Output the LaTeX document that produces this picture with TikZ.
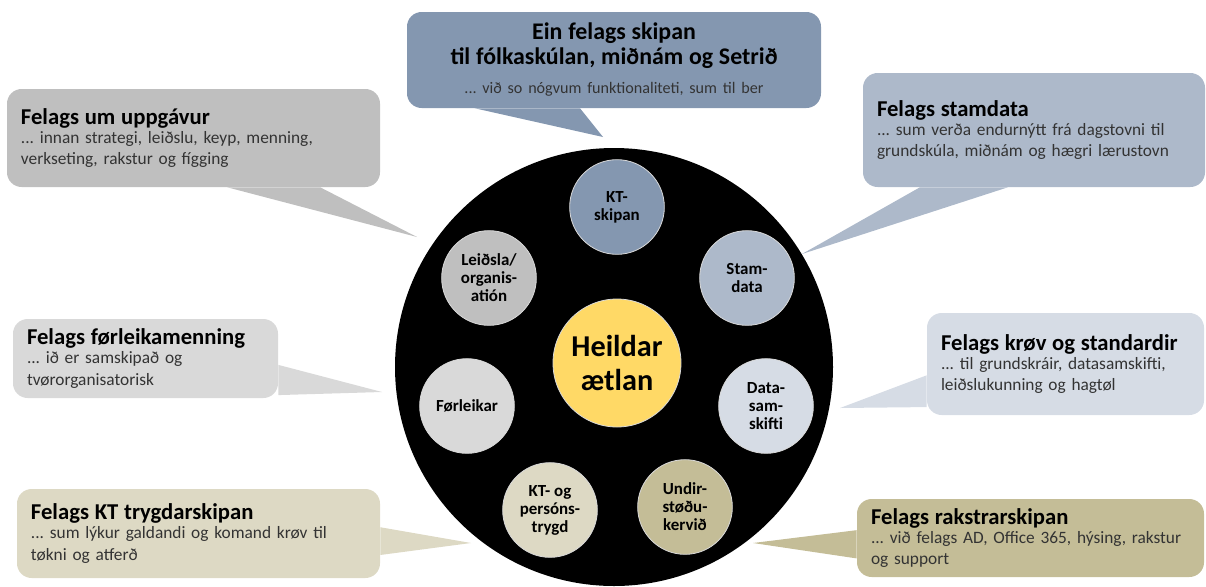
\documentclass[tikz,border=0pt]{standalone}
\usepackage{fontspec}
\setmainfont{Carlito}
\usetikzlibrary{calc}
\frenchspacing

\definecolor{blueA}{HTML}{8497B0}
\definecolor{blueB}{HTML}{ADB9CA}
\definecolor{blueC}{HTML}{D6DCE5}
\definecolor{tanA}{HTML}{C4BD97}
\definecolor{tanB}{HTML}{DDD9C4}
\definecolor{greyA}{HTML}{BFBFBF}
\definecolor{greyB}{HTML}{D9D9D9}
\definecolor{gold}{HTML}{FFD966}

\newcommand{\cohead}[1]{{\color{black}\fontsize{17}{16}\selectfont\bfseries #1}}

\tikzset{
  callout/.style={rectangle, rounded corners=11pt, fill=#1, inner xsep=10.5pt, inner ysep=0pt,
    align=left, font=\fontsize{13}{16}\selectfont, text=black!80},
  part/.style={circle, fill=#1, draw=white!85!black, line width=0.6pt, minimum size=71pt,
    inner sep=0pt, align=center, font=\fontsize{12.7}{13.5}\selectfont\bfseries},
}

\begin{document}
\begin{tikzpicture}[x=0.75pt,y=-0.75pt]

    % page frame
    \useasboundingbox (0,0) rectangle (1206,586);
    \clip (0,0) rectangle (1206,586);

    % speech boxes
    \node[callout=blueA, minimum width=310.5pt, minimum height=72pt, text width=289pt, align=center] (skipan) at (614,60)
        {\color{black}\fontsize{17.9}{16}\selectfont\bfseries Ein felags skipan\\[2.75pt]til fólkaskúlan, miðnám og Setrið\\[5.75pt]\mdseries\color{black!80}\fontsize{12.1}{16}\selectfont ... við so nógvum funktionaliteti, sum til ber};
    \node[callout=greyA, minimum width=279.75pt, minimum height=73.5pt, text width=258.75pt] (uppg) at (193.5,138)
        {\cohead{Felags um uppgávur}\\[-1.75pt]... innan strategi, leiðslu, keyp, menning,\\verkseting, rakstur og fígging};
    \node[callout=blueB, minimum width=256.5pt, minimum height=85.5pt, text width=235.5pt] (stam) at (1034,130)
        {\cohead{Felags stamdata}\\[-1.75pt]... sum verða endurnýtt frá dagstovni til\\grundskúla, miðnám og hægri lærustovn};
    \node[callout=greyB, minimum width=198.75pt, minimum height=59.25pt, text width=177.75pt] (forl) at (145.5,358.5)
        {\cohead{Felags førleikamenning}\\[-1.75pt]... ið er samskipað og\\tvørorganisatorisk};
    \node[callout=blueC, minimum width=207.75pt, minimum height=76.5pt, text width=186.75pt] (krov) at (1065.5,364)
        {\cohead{Felags krøv og standardir}\\[-1.75pt]... til grundskráir, datasamskifti,\\leiðslukunning og hagtøl};
    \node[callout=tanB, minimum width=272.25pt, minimum height=66.75pt, text width=251.25pt] (trygd) at (198.5,533.5)
        {\cohead{Felags KT trygdarskipan}\\[-1.75pt]... sum lýkur galdandi og komand krøv til\\tøkni og atferð};
    \node[callout=tanA, minimum width=260.25pt, minimum height=58.5pt, text width=239.25pt] (rakst) at (1030.5,538)
        {\cohead{Felags rakstrarskipan}\\[-1.75pt]... við felags AD, Office 365, hýsing, rakstur\\og support};

    % pointer tips
    \coordinate (tskipan) at (603,137);
    \coordinate (tuppg) at (417,237);
    \coordinate (tstam) at (802,254);
    \coordinate (tforl) at (382,392);
    \coordinate (tkrov) at (840,408);
    \coordinate (ttrygd) at (471,543);
    \coordinate (trakst) at (753,543);

    % pointers
    \fill[blueA] ($(skipan.south west)!0.164!(skipan.south east)$) -- (tskipan) -- ($(skipan.south west)!0.418!(skipan.south east)$) -- cycle;
    \fill[greyA] ($(uppg.south west)!0.59!(uppg.south east)$) -- (tuppg) -- ($(uppg.south west)!0.839!(uppg.south east)$) -- cycle;
    \fill[blueB] ($(stam.south west)!0.167!(stam.south east)$) -- (tstam) -- ($(stam.south west)!0.424!(stam.south east)$) -- cycle;
    \fill[greyB] ($(forl.north east)!0.58!(forl.south east)$) -- (tforl) -- ($(forl.north east)!0.96!(forl.south east)$) -- cycle;
    \fill[blueC] ($(krov.north west)!0.61!(krov.south west)$) -- (tkrov) -- ($(krov.north west)!0.92!(krov.south west)$) -- cycle;
    \fill[tanB] ($(trygd.north east)!0.43!(trygd.south east)$) -- (ttrygd) -- ($(trygd.north east)!0.74!(trygd.south east)$) -- cycle;
    \fill[tanA] ($(rakst.north west)!0.40!(rakst.south west)$) -- (trakst) -- ($(rakst.north west)!0.76!(rakst.south west)$) -- cycle;

    % black disc
    \node[circle, fill=black, minimum size=328.5pt, inner sep=0pt] (ring) at (614,367) {};

    % parts round the plan
    \foreach \nm/\x/\y/\col/\txt in {kt/617/207/blueA/{KT-\\skipan}, sdata/747/278/blueB/{Stam-\\data},
        dsam/766/406/blueC/{Data-\\sam-\\skifti}, undir/685/507/tanA/{Undir-\\støðu-\\kervið},
        pers/550/510/tanB/{KT- og\\persóns-\\trygd}, leik/467/406/greyB/{Førleikar},
        leid/489/278/greyA/{Leiðsla/\\organis-\\atión}}
        \node[part=\col] (\nm) at (\x,\y) {\txt};

    % centre
    \node[part=gold, minimum size=96pt, font=\fontsize{22.7}{25}\selectfont\bfseries] (plan) at (617,363) {Heildar\\ætlan};
\end{tikzpicture}
\end{document}
